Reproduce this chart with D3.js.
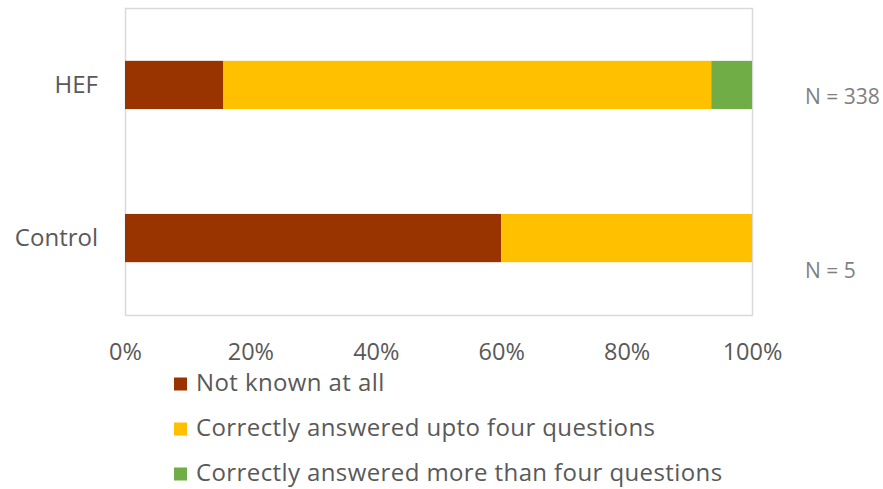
<!DOCTYPE html>
<html>
<head>
<meta charset="utf-8">
<script src="https://cdn.jsdelivr.net/npm/d3@7"></script>
<style>
  html, body { margin: 0; padding: 0; background: #ffffff; }
  svg { display: block; font-family: "Open Sans", "Noto Sans", sans-serif; }
</style>
</head>
<body>
<svg id="chart" width="883" height="489"></svg>
<script>
// Survey groups and their sample sizes
const groups = ["HEF", "Control"];
const sampleSizes = [338, 5];

// Response categories (stack order, left to right)
const categories = [
  "Not known at all",
  "Correctly answered upto four questions",
  "Correctly answered more than four questions"
];
const colors = ["#993300", "#FFC000", "#70AD47"];

// Share of respondents in each category, per group (fractions of 1)
const notKnown     = [0.157, 0.60];
const uptoFour     = [0.778, 0.40];
const moreThanFour = [0.065, 0.00];

const xTicks = [0, 0.2, 0.4, 0.6, 0.8, 1.0];

const rows = groups.map((g, i) => ({
  group: g,
  n: sampleSizes[i],
  [categories[0]]: notKnown[i],
  [categories[1]]: uptoFour[i],
  [categories[2]]: moreThanFour[i]
}));

const svg = d3.select("#chart");
const plot = { left: 125, right: 752, top: 8, bottom: 315 };

const x = d3.scaleLinear().domain([0, 1]).range([plot.left, plot.right]);
const y = d3.scaleBand().domain(groups).range([plot.top, plot.bottom]).paddingInner(0.685).paddingOuter(0.345);

const series = d3.stack().keys(categories)(rows);

// Plot-area frame
svg.append("rect")
  .attr("x", plot.left + 0.5).attr("y", plot.top + 0.5)
  .attr("width", plot.right - plot.left).attr("height", plot.bottom - plot.top)
  .attr("fill", "none").attr("stroke", "#d9d9d9").attr("stroke-width", 1.5);

// Stacked bars
svg.append("g").selectAll("g")
  .data(series)
  .join("g")
  .attr("fill", (d, i) => colors[i])
  .selectAll("rect")
  .data(d => d)
  .join("rect")
  .attr("x", d => x(d[0]))
  .attr("y", d => y(d.data.group))
  .attr("width", d => Math.max(0, x(d[1]) - x(d[0])))
  .attr("height", y.bandwidth());

// Bottom axis (labels only)
const xAxis = svg.append("g")
  .attr("transform", `translate(0,${plot.bottom})`)
  .call(d3.axisBottom(x).tickValues(xTicks).tickFormat(d3.format(".0%")).tickSize(0).tickPadding(28));
xAxis.select(".domain").remove();
xAxis.selectAll("text").attr("fill", "#595959").style("font-size", "23.5px").style("font-family", "'Open Sans', sans-serif");

// Left axis (category labels)
const yAxis = svg.append("g")
  .attr("transform", `translate(${plot.left},0)`)
  .call(d3.axisLeft(y).tickSize(0).tickPadding(27));
yAxis.select(".domain").remove();
yAxis.selectAll("text").attr("fill", "#595959").style("font-size", "24px").style("font-family", "'Open Sans', sans-serif");

// Sample-size notes to the right of the plot
svg.append("g").selectAll("text")
  .data(rows)
  .join("text")
  .attr("x", 805)
  .attr("y", (d, i) => y(d.group) + y.bandwidth() / 2 + (i === 0 ? 12 : 33))
  .attr("dy", "0.35em")
  .attr("fill", "#7f7f7f")
  .style("font-size", "21px")
  .text(d => `N = ${d.n}`);

// Legend
const legend = svg.append("g").selectAll("g")
  .data(categories)
  .join("g")
  .attr("transform", (d, i) => `translate(174,${384 + i * 45})`);
legend.append("rect")
  .attr("x", 0).attr("y", -6.5)
  .attr("width", 13).attr("height", 13)
  .attr("fill", (d, i) => colors[i]);
legend.append("text")
  .attr("x", 22).attr("y", -1).attr("dy", "0.35em")
  .attr("fill", "#595959")
  .style("font-size", "24px")
  .style("letter-spacing", "0.4px")
  .text(d => d);
</script>
</body>
</html>
